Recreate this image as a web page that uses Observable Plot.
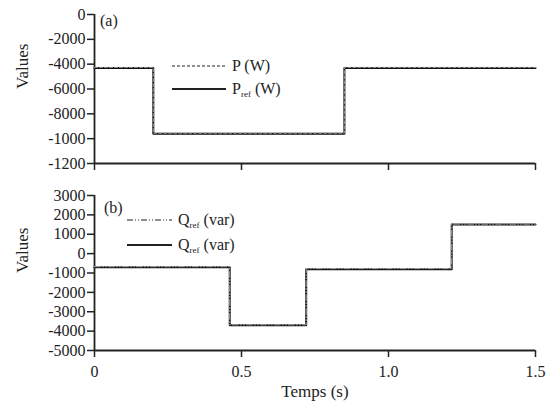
<!DOCTYPE html>
<html>
<head>
<meta charset="utf-8">
<script src="https://cdn.jsdelivr.net/npm/d3@7"></script>
<script src="https://cdn.jsdelivr.net/npm/@observablehq/plot@0.6"></script>
<style>
  body { margin: 0; background: #fff; }
  #chart svg { display: block; }
  #chart svg, #chart svg text { font-family: "Liberation Serif", serif !important; }
</style>
</head>
<body>
<div id="chart"></div>
<script>
// ---- data ----
const pTimes = [0, 0.2, 0.85, 1.5];
const pValues = [-4300, -9600, -4300, -4300];
const prefValues = [-4300, -9600, -4300, -4300];
const qTimes = [0, 0.46, 0.72, 1.215, 1.5];
const qValues = [-700, -3700, -800, 1500, 1500];
const qrefValues = [-700, -3700, -800, 1500, 1500];

const topTicks = [0, -2000, -4000, -6000, -8000, -10000, -12000];
const topTickLabels = ["0", "-2000", "-4000", "-6000", "-8000", "-1000", "-1200"];
const botTicks = [3000, 2000, 1000, 0, -1000, -2000, -3000, -4000, -5000];
const botTickLabels = ["3000", "2000", "1000", "0", "-1000", "-2000", "-3000", "-4000", "-5000"];
const xTicks = [0, 0.5, 1.0, 1.5];
const xTickLabels = ["0", "0.5", "1.0", "1.5"];

const topLabelMap = new Map(topTicks.map((t, i) => [t, topTickLabels[i]]));
const botLabelMap = new Map(botTicks.map((t, i) => [t, botTickLabels[i]]));
const xLabelMap = new Map(xTicks.map((t, i) => [t, xTickLabels[i]]));

const pData = pTimes.map((t, i) => ({t, v: pValues[i]}));
const prefData = pTimes.map((t, i) => ({t, v: prefValues[i]}));
const qData = qTimes.map((t, i) => ({t, v: qValues[i]}));
const qrefData = qTimes.map((t, i) => ({t, v: qrefValues[i]}));

const FONT = "Liberation Serif";
const INK = "#222";

const topPlot = Plot.plot({
  width: 550, height: 175,
  marginLeft: 94, marginRight: 15, marginTop: 14, marginBottom: 12,
  style: {fontFamily: FONT, fontSize: "16px", color: INK, background: "transparent", overflow: "visible"},
  x: {domain: [0, 1.5]},
  y: {domain: [-12000, 0]},
  marks: [
    Plot.axisY({ticks: topTicks, tickFormat: d => topLabelMap.get(d), tickSize: 7, tickPadding: 2, label: null, strokeWidth: 1.5, fontSize: 16}),
    Plot.axisX({ticks: xTicks, tickFormat: () => "", tickSize: 7, label: null, strokeWidth: 1.5}),
    Plot.ruleX([0], {stroke: INK, strokeWidth: 1.8}),
    Plot.ruleY([-12000], {stroke: INK, strokeWidth: 1.8}),
    Plot.line(prefData, {x: "t", y: "v", curve: "step-after", stroke: "#111", strokeWidth: 2}),
    Plot.line(pData, {x: "t", y: "v", curve: "step-after", stroke: "#999", strokeWidth: 1, strokeDasharray: "3,2", dy: -0.5}),
    Plot.text(["Values"], {frameAnchor: "left", rotate: -90, dx: -72, fontSize: 17, fill: INK})
  ]
});

const botPlot = Plot.plot({
  width: 550, height: 232,
  marginLeft: 94, marginRight: 15, marginTop: 20, marginBottom: 57,
  style: {fontFamily: FONT, fontSize: "16px", color: INK, background: "transparent", overflow: "visible"},
  x: {domain: [0, 1.5]},
  y: {domain: [-5000, 3000]},
  marks: [
    Plot.axisY({ticks: botTicks, tickFormat: d => botLabelMap.get(d), tickSize: 7, tickPadding: 2, label: null, strokeWidth: 1.5, fontSize: 16}),
    Plot.axisX({ticks: xTicks, tickFormat: d => xLabelMap.get(d), tickSize: 7, tickPadding: 8, label: null, strokeWidth: 1.5, fontSize: 16}),
    Plot.ruleX([0], {stroke: INK, strokeWidth: 1.8}),
    Plot.ruleY([-5000], {stroke: INK, strokeWidth: 1.8}),
    Plot.line(qrefData, {x: "t", y: "v", curve: "step-after", stroke: "#111", strokeWidth: 2}),
    Plot.line(qData, {x: "t", y: "v", curve: "step-after", stroke: "#aaa", strokeWidth: 1, strokeDasharray: "6,2,1,2,1,2", dy: -0.5}),
    Plot.text(["Values"], {frameAnchor: "left", rotate: -90, dx: -72, fontSize: 17, fill: INK}),
    Plot.text(["Temps (s)"], {frameAnchor: "bottom", dy: 46, fontSize: 17, fill: INK})
  ]
});

const chart = document.getElementById("chart");
chart.appendChild(topPlot);
chart.appendChild(botPlot);

// ---- in-panel labels and legends ----
function legendEntry(svg, x1, x2, y, dash, width, main, sub, rest) {
  const g = d3.select(svg).append("g");
  g.append("line").attr("x1", x1).attr("x2", x2).attr("y1", y).attr("y2", y)
    .attr("stroke", INK).attr("stroke-width", width)
    .attr("stroke-dasharray", dash || null);
  const t = g.append("text").attr("x", x2 + 6).attr("y", y + 5)
    .attr("text-anchor", "start")
    .attr("font-family", FONT).attr("font-size", 16).attr("fill", INK);
  t.append("tspan").text(main);
  if (sub) t.append("tspan").attr("font-size", 9).attr("dy", 3).text(sub);
  t.append("tspan").attr("dy", sub ? -3 : 0).text(rest);
}
function panelLabel(svg, x, y, s) {
  d3.select(svg).append("text").attr("x", x).attr("y", y)
    .attr("text-anchor", "start")
    .attr("font-family", FONT).attr("font-size", 16).attr("fill", INK).text(s);
}

panelLabel(topPlot, 100, 26, "(a)");
legendEntry(topPlot, 172, 226, 66, "3,2", 1, "P", null, " (W)");
legendEntry(topPlot, 172, 226, 89, null, 2, "P", "ref", " (W)");

panelLabel(botPlot, 104, 213 - 175, "(b)");
legendEntry(botPlot, 127, 172, 220 - 175, "6,2,1,2,1,2", 1.2, "Q", "ref", " (var)");
legendEntry(botPlot, 127, 172, 245 - 175, null, 2, "Q", "ref", " (var)");
</script>
</body>
</html>
